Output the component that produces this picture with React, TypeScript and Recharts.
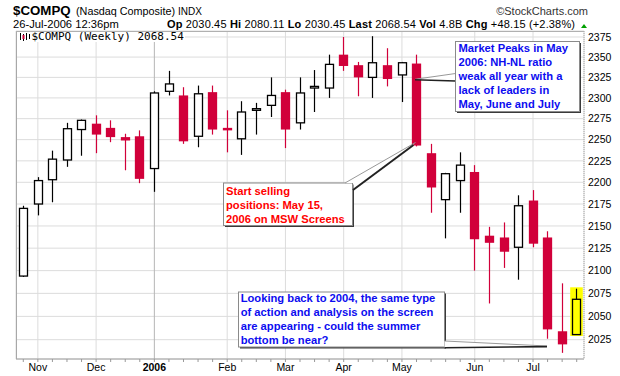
import React from "react";
import { ComposedChart, Bar, XAxis, YAxis, CartesianGrid } from "recharts";

// weekly candles, Monday of each week
const weeks = [
  "2005-10-31", "2005-11-07", "2005-11-14", "2005-11-21", "2005-11-28",
  "2005-12-05", "2005-12-12", "2005-12-19", "2005-12-26", "2006-01-02",
  "2006-01-09", "2006-01-16", "2006-01-23", "2006-01-30", "2006-02-06",
  "2006-02-13", "2006-02-20", "2006-02-27", "2006-03-06", "2006-03-13",
  "2006-03-20", "2006-03-27", "2006-04-03", "2006-04-10", "2006-04-17",
  "2006-04-24", "2006-05-01", "2006-05-08", "2006-05-15", "2006-05-22",
  "2006-05-29", "2006-06-05", "2006-06-12", "2006-06-19", "2006-06-26",
  "2006-07-03", "2006-07-10", "2006-07-17", "2006-07-24"
];

const opens = [
  2094, 2175, 2203, 2226, 2262, 2269, 2264, 2253, 2254, 2216,
  2308, 2303, 2254, 2307, 2264, 2251, 2285, 2291, 2307, 2270,
  2312, 2312, 2353, 2340, 2325, 2340, 2328, 2342, 2234, 2180,
  2202, 2212, 2139, 2137, 2126, 2179, 2137, 2034, 2030.45
];
const highs = [
  2173, 2206, 2237, 2270, 2274, 2279, 2273, 2257, 2261, 2308,
  2333, 2313, 2315, 2315, 2285, 2296, 2294, 2325, 2310, 2325,
  2334, 2353, 2375, 2344, 2376, 2361, 2344, 2353, 2245, 2211,
  2235, 2220, 2149, 2154, 2185, 2191, 2144, 2086, 2080.11
];
const lows = [
  2093, 2162, 2177, 2218, 2231, 2234, 2247, 2214, 2199, 2189,
  2303, 2245, 2241, 2256, 2235, 2232, 2256, 2277, 2240, 2262,
  2283, 2300, 2333, 2302, 2300, 2314, 2295, 2242, 2165, 2136,
  2165, 2100, 2064, 2103, 2090, 2126, 2026, 2011, 2030.45
];
const closes = [
  2170, 2202, 2227, 2263, 2273, 2256, 2253, 2249, 2204, 2306,
  2317, 2248, 2305, 2262, 2261, 2283, 2287, 2303, 2262, 2306,
  2314, 2341, 2339, 2325, 2343, 2323, 2343, 2243, 2194, 2210,
  2220, 2135, 2131, 2121, 2173, 2130, 2036, 2020, 2068.54
];

const monthWeeks = [
  "2005-11-07", "2005-12-05", "2006-01-02", "2006-02-06", "2006-03-06",
  "2006-04-03", "2006-05-01", "2006-06-05", "2006-07-03"
];
const monthLabels = ["Nov", "Dec", "2006", "Feb", "Mar", "Apr", "May", "Jun", "Jul"];

const priceTicks = [2025, 2050, 2075, 2100, 2125, 2150, 2175, 2200, 2225, 2250, 2275, 2300, 2325, 2350, 2375];

const RED = "#d1003a";
const FONT = "'Liberation Sans', Arial, sans-serif";

const data = weeks.map((week, i) => ({
  week,
  range: [lows[i], highs[i]],
  body: [Math.min(opens[i], closes[i]), Math.max(opens[i], closes[i])],
  up: closes[i] >= opens[i],
  last: i === weeks.length - 1
}));

function Wick(props: any) {
  const { x, y, width, height, payload } = props;
  const cx = Math.floor(x + width / 2) + 0.5;
  const top = Math.min(y, y + height);
  const h = Math.abs(height);
  return (
    <g>
      {payload.last && (
        <rect x={cx - 6.3} y={top - 1.4} width={12.6} height={h + 2.8} fill="#ffff00" />
      )}
      <line x1={cx} x2={cx} y1={top} y2={top + h} stroke={payload.up ? "#000" : RED} strokeWidth={1.2} />
    </g>
  );
}

function Body(props: any) {
  const { x, y, width, height, payload } = props;
  const cx = Math.floor(x + width / 2) + 0.5;
  let top = Math.min(y, y + height);
  let h = Math.abs(height);
  if (h < 1) {
    top -= (1 - h) / 2;
    h = 1;
  }
  if (payload.up) {
    return (
      <rect
        x={cx - 4}
        y={top}
        width={8}
        height={h}
        fill={payload.last ? "#ffff00" : "#fff"}
        stroke="#000"
        strokeWidth={1.3}
      />
    );
  }
  return <rect x={cx - 4.65} y={top} width={9.3} height={h} fill={RED} />;
}

function WeekTick(props: any) {
  const { x, y, payload } = props;
  const idx = monthWeeks.indexOf(payload.value);
  if (idx < 0) return <g />;
  const label = monthLabels[idx];
  return (
    <text
      x={x}
      y={y}
      dy="0.71em"
      textAnchor="middle"
      fontFamily={FONT}
      fontSize={10.5}
      fontWeight={label === "2006" ? "bold" : "normal"}
      fill="#000"
    >
      {label}
    </text>
  );
}

function Callout({ x, y, w, h, color, lines, tx, ty }: any) {
  return (
    <g>
      <rect x={x + 2} y={y + 2} width={w} height={h} fill="#3a3a3a" />
      <rect x={x + 0.5} y={y + 0.5} width={w} height={h} fill="#fff" stroke="#8a8a8a" strokeWidth={1} />
      <text fontFamily={FONT} fontSize={11.2} fontWeight="bold" fill={color}>
        {lines.map((l: string, i: number) => (
          <tspan key={i} x={tx} y={ty + i * 13.9}>
            {l}
          </tspan>
        ))}
      </text>
    </g>
  );
}

export default function App() {
  return (
    <div style={{ position: "relative", width: 620, height: 376, background: "#fff" }}>
      <style>{`body{margin:0}`}</style>
      <ComposedChart width={620} height={376} data={data} margin={{ top: 31, right: 0, bottom: 0, left: 16 }}>
        <CartesianGrid
          xAxisId="b"
          stroke="#dcdcdc"
          vertical={(p: any) => (
            <line
              key={p.key ?? `v-${p.index}`}
              x1={p.x1}
              x2={p.x2}
              y1={p.y1}
              y2={p.y2}
              stroke={p.index === 2 ? "#b5b5b5" : "#dcdcdc"}
              strokeWidth={1}
            />
          )}
        />
        <XAxis xAxisId="b" dataKey="week" hide height={0} ticks={monthWeeks} interval={0} />
        <XAxis
          xAxisId="w"
          dataKey="week"
          interval={0}
          height={17}
          tickSize={3}
          tickMargin={2}
          tickLine={{ stroke: "#999" }}
          axisLine={{ stroke: "#a0a0a0" }}
          tick={<WeekTick />}
        />
        <YAxis
          orientation="right"
          scale="log"
          domain={[2004.5, 2382.5]}
          allowDataOverflow
          ticks={priceTicks}
          interval={0}
          width={36}
          tickLine={false}
          tickSize={2}
          tickMargin={2}
          axisLine={{ stroke: "#a8a8a8", strokeDasharray: "1 1" }}
          tick={{ fontSize: 10.5, fill: "#000", fontFamily: FONT }}
        />
        <Bar xAxisId="w" dataKey="range" shape={<Wick />} isAnimationActive={false} />
        <Bar xAxisId="b" dataKey="body" shape={<Body />} isAnimationActive={false} />
      </ComposedChart>

      <svg width={620} height={376} style={{ position: "absolute", left: 0, top: 0, pointerEvents: "none" }}>
        {/* header */}
        <text x={13} y={14.5} fontFamily={FONT} fontSize={13.3} fontWeight="bold" fill="#000">$COMPQ</text>
        <text x={76} y={14.5} fontFamily={FONT} fontSize={10.8} fill="#000">(Nasdaq Composite)</text>
        <text x={178} y={14.5} fontFamily={FONT} fontSize={10} fill="#000">INDX</text>
        <text x={588} y={14.5} textAnchor="end" fontFamily={FONT} fontSize={11} fill="#333">©StockCharts.com</text>

        <text x={13} y={28} fontFamily={FONT} fontSize={11.2} fill="#000">26-Jul-2006 12:36pm</text>
        <text x={167} y={28} fontFamily={FONT} fontSize={11} fill="#000" textLength={408} lengthAdjust="spacing">
          <tspan fontWeight="bold">Op</tspan> 2030.45  <tspan fontWeight="bold">Hi</tspan> 2080.11  <tspan fontWeight="bold">Lo</tspan> 2030.45  <tspan fontWeight="bold">Last</tspan> 2068.54  <tspan fontWeight="bold">Vol</tspan> 4.8B  <tspan fontWeight="bold">Chg</tspan> +48.15 (+2.38%)
        </text>
        <polygon points="581,28 587,28 584,24" fill="#00a000" />

        {/* plot frame */}
        <line x1={16.5} x2={16.5} y1={31} y2={359} stroke="#a8a8a8" />
        <line x1={16} x2={584} y1={31.5} y2={31.5} stroke="#b0b0b0" />

        {/* series label */}
        <rect x={17} y={32} width={168} height={10} fill="#fff" />
        <g stroke="#000" strokeWidth={1}>
          <line x1={20.5} x2={20.5} y1={33} y2={40} />
          <line x1={23.5} x2={23.5} y1={34} y2={41} />
          <line x1={26.5} x2={26.5} y1={33} y2={40} />
          <line x1={29.5} x2={29.5} y1={34} y2={39} />
        </g>
        <rect x={22.5} y={35} width={2} height={4} fill={RED} />
        <text x={31.5} y={40} fontFamily="'DejaVu Sans Mono', monospace" fontSize={11} fill="#000">
          $COMPQ (Weekly) 2068.54
        </text>

        {/* pointer: market peak */}
        <polygon points="415,79.3 455.5,73.5 455.5,80.8" fill="#fff" />
        <line x1={415} y1={79.3} x2={455.5} y2={73.5} stroke="#999" />
        <line x1={415} y1={79.8} x2={455.5} y2={81} stroke="#222" strokeWidth={1.6} />
        <Callout
          x={455}
          y={41}
          w={124}
          h={70}
          color="#0c0cf0"
          tx={458.5}
          ty={52.3}
          lines={["Market Peaks in May", "2006: NH-NL ratio", "weak all year with a", "lack of leaders in", "May, June and July"]}
        />

        {/* pointer: start selling */}
        <Callout
          x={223}
          y={182.5}
          w={129}
          h={42.5}
          color="#ff0000"
          tx={226}
          ty={194.7}
          lines={["Start selling", "positions: May 15,", "2006 on MSW Screens"]}
        />
        <polygon points="415,143.5 345,183 353.5,183 353.5,190" fill="#fff" />
        <line x1={345} y1={183} x2={415.5} y2={142.5} stroke="#999" />
        <line x1={353} y1={190} x2={413.5} y2={145} stroke="#222" strokeWidth={2} />

        {/* pointer: summer bottom */}
        <Callout
          x={238}
          y={291.5}
          w={206}
          h={55}
          color="#0c0cf0"
          tx={240.7}
          ty={302.3}
          lines={[
            "Looking back to 2004, the same type",
            "of action and analysis on the screen",
            "are appearing - could the summer",
            "bottom be near?"
          ]}
        />
        <polygon points="444.5,341 547,346.3 444.5,347.8" fill="#fff" />
        <line x1={444.5} y1={341} x2={547} y2={346} stroke="#999" />
        <line x1={444.5} y1={347.8} x2={547} y2={346.6} stroke="#222" strokeWidth={1.6} />
      </svg>
    </div>
  );
}
